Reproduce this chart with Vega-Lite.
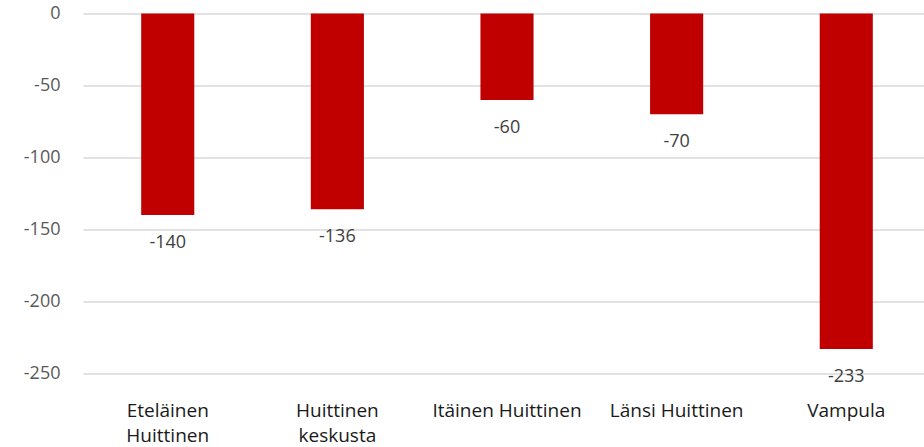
{
  "$schema": "https://vega.github.io/schema/vega-lite/v6.json",
  "width": 848,
  "height": 360,
  "autosize": {"type": "none"},
  "padding": {"left": 83, "top": 13.5, "right": 0, "bottom": 74},
  "background": "white",
  "config": {
    "view": {"stroke": null},
    "font": "Open Sans",
    "locale": {"number": {"decimal": ".", "thousands": " ", "grouping": [3], "currency": ["", " €"], "minus": "-"}}
  },
  "data": {"values": [
    {"alue": "Eteläinen Huittinen", "arvo": -140},
    {"alue": "Huittinen keskusta", "arvo": -136},
    {"alue": "Itäinen Huittinen", "arvo": -60},
    {"alue": "Länsi Huittinen", "arvo": -70},
    {"alue": "Vampula", "arvo": -233}
  ]},
  "encoding": {
    "x": {
      "field": "alue", "type": "nominal", "sort": null,
      "scale": {"paddingInner": 0.687, "paddingOuter": 0.343},
      "axis": {
        "title": null, "orient": "bottom", "domain": false, "ticks": false,
        "labelAngle": 0, "labelFontSize": 19, "labelColor": "#1a1a1a",
        "labelPadding": 37, "labelLineHeight": 25, "labelBaseline": "middle",
        "labelExpr": "datum.value == 'Eteläinen Huittinen' ? ['Eteläinen', 'Huittinen'] : datum.value == 'Huittinen keskusta' ? ['Huittinen', 'keskusta'] : datum.value"
      }
    },
    "y": {
      "field": "arvo", "type": "quantitative",
      "scale": {"domain": [-250, 0], "nice": false, "zero": false},
      "axis": {
        "title": null, "values": [0, -50, -100, -150, -200, -250],
        "domain": false, "ticks": false, "grid": true,
        "gridColor": "#d9d9d9", "gridWidth": 1.5,
        "labelFontSize": 18, "labelColor": "#595959", "labelPadding": 23
      }
    }
  },
  "layer": [
    {"mark": {"type": "bar", "color": "#C00000"}, "encoding": {"y2": {"datum": 0}}},
    {"mark": {"type": "text", "baseline": "middle", "dy": 28, "fontSize": 18, "color": "#404040"},
     "encoding": {"text": {"field": "arvo", "type": "quantitative"}}}
  ]
}
